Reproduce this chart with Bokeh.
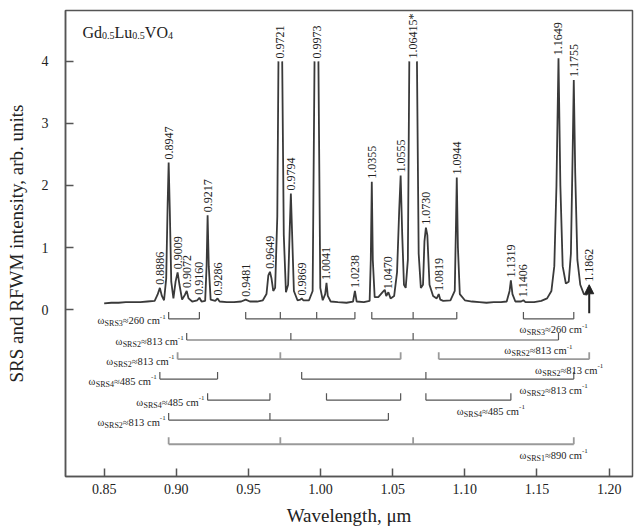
import math
import numpy as np
from bokeh.plotting import figure
from bokeh.models import ColumnDataSource, FixedTicker, Arrow, NormalHead, NumeralTickFormatter
from bokeh.core.properties import value, field
from bokeh.embed import file_html
from bokeh.resources import INLINE

# ---------------- data ----------------
nan = float("nan")
spec_wl = [0.8500, 0.8550, 0.8600, 0.8650, 0.8700, 0.8750, 0.8800, 0.8850, 0.8870, 0.8886,
           0.8900, 0.8915, 0.8930, 0.8940, 0.8947, 0.8955, 0.8965, 0.8980, 0.8995, 0.9009,
           0.9022, 0.9040, 0.9060, 0.9072, 0.9085, 0.9110, 0.9145, 0.9160, 0.9175, 0.9200,
           0.9210, 0.9217, 0.9225, 0.9238, 0.9270, 0.9286, 0.9300, 0.9350, 0.9400, 0.9450,
           0.9481, 0.9510, 0.9560, 0.9600, 0.9625, 0.9638, 0.9649, 0.9660, 0.9672, 0.9685,
           0.9700, 0.9708, nan, 0.9734, 0.9745, 0.9760, 0.9775, 0.9785, 0.9794, 0.9803,
           0.9815, 0.9840, 0.9860, 0.9869, 0.9880, 0.9920, 0.9945, 0.9958, nan, 0.9985,
           0.9998, 1.0015, 1.0032, 1.0041, 1.0050, 1.0070, 1.0120, 1.0180, 1.0225, 1.0238,
           1.0250, 1.0300, 1.0340, 1.0348, 1.0355, 1.0362, 1.0375, 1.0400, 1.0430, 1.0445,
           1.0455, 1.0470, 1.0485, 1.0510, 1.0530, 1.0545, 1.0555, 1.0566, 1.0578, 1.0590,
           1.0605, 1.0615, nan, 1.0668, 1.0680, 1.0695, 1.0710, 1.0720, 1.0730, 1.0740,
           1.0755, 1.0780, 1.0805, 1.0819, 1.0830, 1.0850, 1.0900, 1.0930, 1.0938, 1.0944,
           1.0952, 1.0965, 1.1000, 1.1050, 1.1100, 1.1150, 1.1200, 1.1250, 1.1290, 1.1310,
           1.1319, 1.1330, 1.1350, 1.1390, 1.1406, 1.1420, 1.1480, 1.1530, 1.1570, 1.1600,
           1.1620, 1.1635, 1.1649, 1.1662, 1.1678, 1.1700, 1.1720, 1.1735, 1.1747, 1.1755,
           1.1765, 1.1780, 1.1800, 1.1825, 1.1845, 1.1855]
spec_int = [0.10, 0.11, 0.11, 0.12, 0.12, 0.12, 0.13, 0.14, 0.24, 0.35,
            0.22, 0.15, 0.50, 1.70, 2.37, 1.60, 0.45, 0.18, 0.45, 0.60,
            0.40, 0.16, 0.24, 0.30, 0.18, 0.13, 0.15, 0.19, 0.13, 0.14,
            0.70, 1.52, 0.70, 0.16, 0.14, 0.18, 0.13, 0.12, 0.12, 0.13,
            0.16, 0.13, 0.13, 0.15, 0.25, 0.55, 0.61, 0.50, 0.30, 0.35,
            1.50, 4.00, nan, 4.00, 1.20, 0.28, 0.40, 1.20, 1.87, 1.20,
            0.30, 0.15, 0.16, 0.18, 0.15, 0.15, 0.30, 4.00, nan, 4.00,
            0.35, 0.15, 0.25, 0.43, 0.22, 0.13, 0.12, 0.11, 0.13, 0.30,
            0.13, 0.12, 0.14, 0.80, 2.06, 0.80, 0.20, 0.20, 0.28, 0.32,
            0.22, 0.28, 0.18, 0.22, 0.60, 1.60, 2.16, 1.20, 0.40, 0.35,
            0.80, 4.00, nan, 4.00, 0.90, 0.35, 0.40, 1.10, 1.32, 1.20,
            0.40, 0.22, 0.18, 0.25, 0.16, 0.14, 0.15, 0.30, 1.30, 2.13,
            1.00, 0.25, 0.15, 0.13, 0.12, 0.11, 0.12, 0.12, 0.13, 0.30,
            0.47, 0.25, 0.13, 0.13, 0.15, 0.12, 0.12, 0.14, 0.18, 0.30,
            0.70, 2.00, 4.05, 2.00, 0.70, 0.42, 0.45, 0.90, 2.50, 3.70,
            2.20, 0.80, 0.40, 0.25, 0.24, 0.35]

peak_text = ["0.8886", "0.8947", "0.9009", "0.9072", "0.9160", "0.9217", "0.9286", "0.9481",
             "0.9649", "0.9721", "0.9794", "0.9869", "0.9973", "1.0041", "1.0238", "1.0355",
             "1.0470", "1.0555", "1.06415*", "1.0730", "1.0819", "1.0944", "1.1319", "1.1406",
             "1.1649", "1.1755", "1.1862"]
peak_wl = [0.8886, 0.8947, 0.9009, 0.9072, 0.9160, 0.9217, 0.9286, 0.9481,
           0.9649, 0.9721, 0.9794, 0.9869, 0.9973, 1.0041, 1.0238, 1.0355,
           1.0470, 1.0555, 1.06415, 1.0730, 1.0819, 1.0944, 1.1319, 1.1406,
           1.1649, 1.1755, 1.1862]
peak_top = [0.35, 2.37, 0.60, 0.30, 0.19, 1.52, 0.18, 0.16,
            0.61, 4.00, 1.87, 0.18, 4.00, 0.43, 0.30, 2.06,
            0.28, 2.16, 4.00, 1.32, 0.25, 2.13, 0.47, 0.15,
            4.05, 3.70, 0.40]

arrow_wl = 1.1862
arrow_from, arrow_to = -0.06, 0.40

# Raman-shift combs: lines joining peaks
row_segments = [
    [[0.8947, 0.9160], [0.9481, 0.9721, 0.9973, 1.0238], [1.0355, 1.06415, 1.0944], [1.1406, 1.1755]],
    [[0.9072, 0.9794, 1.06415, 1.1649]],
    [[0.9009, 0.9721, 1.0555], [1.0819, 1.1862]],
    [[0.8886, 0.9286], [0.9869, 1.0730, 1.1755]],
    [[0.9217, 0.9649], [1.0041, 1.0555], [1.0730, 1.1319]],
    [[0.8947, 0.9649, 1.0470]],
    [[0.8947, 0.9721, 1.06415, 1.1755]],
]
row_left_label = [("SRS3", "260"), ("SRS2", "813"), ("SRS2", "813"), ("SRS4", "485"),
                  ("SRS4", "485"), ("SRS2", "813"), None]
row_right_label = [("SRS3", "260"), ("SRS2", "813"), ("SRS2", "813"), ("SRS2", "813"),
                   ("SRS4", "485"), None, ("SRS1", "890")]

x_ticks = [0.85, 0.90, 0.95, 1.00, 1.05, 1.10, 1.15, 1.20]
y_ticks = [0, 1, 2, 3, 4]

# ---------------- layout / style ----------------
X0, X1 = 0.8232, 1.2162
Y0, Y1 = -2.69, 4.82
W, H = 635, 530
ML, MR, MT, MB = 65, 3, 10, 54
FW, FH = W - ML - MR, H - MT - MB
PXX = FW / (X1 - X0)
PXY = FH / (Y1 - Y0)
row_levels = [-0.15, -0.49, -0.80, -1.12, -1.46, -1.78, -2.17]
row_colors = ["#555555", "#555555", "#9a9a9a", "#555555", "#555555", "#555555", "#9a9a9a"]
row_widths = [1.2, 1.2, 1.8, 1.2, 1.2, 1.2, 1.8]
TICK_H = 7 / PXY
FONT = "Liberation Serif"
TXT = "#222222"
GRAY = "#555555"

CW = {"0": .5, "1": .5, "2": .5, "3": .5, "4": .5, "5": .5, "6": .5, "7": .5, "8": .5, "9": .5,
      ".": .25, ",": .25, " ": .25, "=": .564, "\u2248": .549, "\u03c9": .686, "S": .556,
      "R": .667, "c": .444, "m": .778, "-": .333, "G": .722, "d": .5, "L": .611, "u": .5,
      "V": .722, "O": .722}


def tw(s, size):
    return sum(CW.get(ch, 0.5) for ch in s) * size


p = figure(width=W, height=H, x_range=(X0, X1), y_range=(Y0, Y1),
           output_backend="svg", toolbar_location=None,
           min_border_left=ML, min_border_right=MR, min_border_top=MT, min_border_bottom=MB)
p.background_fill_color = "white"
p.border_fill_color = "white"
p.grid.visible = False
p.outline_line_color = GRAY
p.outline_line_width = 1.5

for ax in (p.xaxis[0], p.yaxis[0]):
    ax.axis_line_color = GRAY
    ax.axis_line_width = 1.5
    ax.major_tick_line_color = GRAY
    ax.major_tick_line_width = 1.5
    ax.major_tick_in = 8
    ax.major_tick_out = 0
    ax.minor_tick_line_color = None
    ax.major_label_text_font = FONT
    ax.major_label_text_font_size = "14px"
    ax.major_label_text_color = TXT
    ax.axis_label_text_font = FONT
    ax.axis_label_text_font_size = "19px"
    ax.axis_label_text_font_style = "normal"
    ax.axis_label_text_color = TXT
p.xaxis.ticker = FixedTicker(ticks=x_ticks)
p.xaxis.formatter = NumeralTickFormatter(format="0.00")
p.xaxis.major_label_standoff = 7
p.xaxis.axis_label = "Wavelength, \u03bcm"
p.xaxis.axis_label_standoff = 8
p.yaxis.ticker = FixedTicker(ticks=y_ticks)
p.yaxis.major_label_standoff = 17
p.yaxis.axis_label = "SRS and RFWM intensity, arb. units"
p.yaxis.axis_label_standoff = 12
try:
    p.yaxis.axis_label_align = "right"
except Exception:
    pass

# spectrum
p.line(spec_wl, spec_int, line_color="#3a3a3a", line_width=1.8)

# peak labels
p.text(x=peak_wl, y=peak_top, text=peak_text, angle=math.pi / 2, y_offset=-3,
       text_align="left", text_baseline="middle", text_font=value(FONT),
       text_font_size="12px", text_color=TXT)

# arrow
p.add_layout(Arrow(end=NormalHead(size=9, fill_color="#222222", line_color="#222222"),
                   x_start=arrow_wl, y_start=arrow_from, x_end=arrow_wl, y_end=arrow_to,
                   line_color="#222222", line_width=2))

# combs
hx0, hx1, hy, hc, hw = [], [], [], [], []
tx, ty0, ty1, tc, tww = [], [], [], [], []
for segs, lvl, col, lw in zip(row_segments, row_levels, row_colors, row_widths):
    for seg in segs:
        hx0.append(seg[0]); hx1.append(seg[-1]); hy.append(lvl); hc.append(col); hw.append(lw)
        for xv in seg:
            tx.append(xv); ty0.append(lvl); ty1.append(lvl + TICK_H); tc.append(col); tww.append(lw)
p.segment(x0=hx0, y0=hy, x1=hx1, y1=hy, line_color=hc, line_width=hw)
p.segment(x0=tx, y0=ty0, x1=tx, y1=ty1, line_color=tc, line_width=tww)

# comb labels, built of pieces (main text, subscript, superscript)
lab = dict(x=[], y=[], text=[], dx=[], dy=[], size=[])


def add_pieces(xa, ya, pieces, start_dx, base_dy):
    cur = start_dx
    for s, size, shift in pieces:
        lab["x"].append(xa); lab["y"].append(ya); lab["text"].append(s)
        lab["dx"].append(cur); lab["dy"].append(base_dy + shift)
        lab["size"].append("%.1fpx" % size)
        cur += tw(s, size)


def omega_pieces(sub, num):
    return [("\u03c9", 10.5, 0), (sub, 8.0, 3), ("\u2248" + num + " cm", 10.5, 0), ("-1", 7.0, -4)]


for segs, lvl, ll, rl in zip(row_segments, row_levels, row_left_label, row_right_label):
    if ll is not None:
        pcs = omega_pieces(*ll)
        total = sum(tw(s, sz) for s, sz, _ in pcs)
        add_pieces(segs[0][0], lvl, pcs, -3 - total, 2)
    if rl is not None:
        pcs = omega_pieces(*rl)
        total = sum(tw(s, sz) for s, sz, _ in pcs)
        add_pieces(segs[-1][-1], lvl, pcs, 14 - total, 11)

# compound name
title_pieces = [("Gd", 16.0, 0), ("0.5", 10.0, 3), ("Lu", 16.0, 0), ("0.5", 10.0, 3),
                ("VO", 16.0, 0), ("4", 10.0, 3)]
add_pieces(X0, Y1, title_pieces, 17, 22)

p.text(x="x", y="y", text="text", x_offset="dx", y_offset="dy", source=ColumnDataSource(lab),
       text_align="left", text_baseline="alphabetic", text_font=value(FONT),
       text_font_size=field("size"), text_color=TXT)

open("out.html", "w").write(file_html(p, INLINE))
